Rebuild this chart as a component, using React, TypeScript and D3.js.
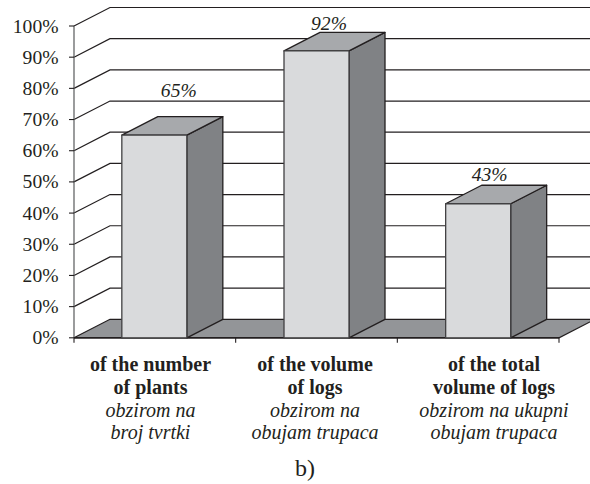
import React from "react";
import * as d3 from "d3";

const categories = ["of the number", "of the volume", "of the total"];
const categoriesLine2 = ["of plants", "of logs", "volume of logs"];
const italicLine1 = ["obzirom na", "obzirom na", "obzirom na ukupni"];
const italicLine2 = ["broj tvrtki", "obujam trupaca", "obujam trupaca"];
const values = [65, 92, 43];
const yTicks = [0, 10, 20, 30, 40, 50, 60, 70, 80, 90, 100];

const FONT = "'Liberation Serif', serif";
const DX = 36;
const DY = 18.5;
const INK = "#231f20";
// hand placement of the annotations, as they sit in the picture
const valueLabelDx = [57, 45, 44];
const valueLabelDy = [38, 21, 23];
const categoryCentres = [150.5, 315, 494];

export default function App() {
  const y = d3.scaleLinear().domain([0, 100]).range([337.8, 26]);
  const x = d3.scaleBand<number>().domain([0, 1, 2]).range([74, 559]);
  const barW = 65;
  const y0 = y(0);
  const right = 595;
  return (
    <svg width={590} height={484} style={{ position: "absolute", left: 0, top: 0, background: "#fff" }} fontFamily={FONT} fill={INK}>
      {yTicks.filter(t => t > 0).map(t => (
        <polyline key={t} points={`${74},${y(t)} ${74 + DX},${y(t) - DY} ${right},${y(t) - DY}`} fill="none" stroke={INK} strokeWidth={1.2} />
      ))}
      <polygon points={`74,${y0} ${74 + DX},${y0 - DY} ${right},${y0 - DY} ${559},${y0}`} fill="#939598" stroke={INK} strokeWidth={1.2} />
      <line x1={74} x2={74} y1={y(100)} y2={y0} stroke="#58595b" strokeWidth={1.2} />
      <line x1={74} x2={559} y1={y0} y2={y0} stroke={INK} strokeWidth={1.4} />
      {yTicks.map(t => (
        <g key={t}>
          <line x1={69} x2={74} y1={y(t)} y2={y(t)} stroke={INK} strokeWidth={1.1} />
          <text x={58.5} y={y(t) + 6.5} textAnchor="end" fontSize={19.6}>{t}%</text>
        </g>
      ))}
      {[0, 1, 2, 3].map(i => {
        const xp = 74 + i * x.bandwidth();
        return <line key={i} x1={xp} x2={xp} y1={y0} y2={y0 + 5} stroke={INK} strokeWidth={1.1} />;
      })}
      {values.map((v, i) => {
        const x0 = (x(i) as number) + (x.bandwidth() - barW) / 2 - 0.5 + (i === 0 ? 0 : 0.5);
        const x1 = x0 + barW;
        const t = y(v);
        return (
          <g key={i} stroke={INK} strokeWidth={1.3} strokeLinejoin="round">
            <polygon points={`${x1},${t} ${x1 + DX},${t - DY} ${x1 + DX},${y0 - DY} ${x1},${y0}`} fill="#808285" />
            <polygon points={`${x0},${t} ${x0 + DX},${t - DY} ${x1 + DX},${t - DY} ${x1},${t}`} fill="#a7a9ac" />
            <rect x={x0} y={t} width={barW} height={y0 - t} fill="#d9dadc" stroke="#414042" />
            <text x={x0 + valueLabelDx[i]} y={t - valueLabelDy[i]} textAnchor="middle" fontSize={19.6} fontStyle="italic" stroke="none" fill={INK}>{v}%</text>
          </g>
        );
      })}
      {categories.map((c, i) => (
        <g key={i} textAnchor="middle" fontSize={20}>
          <text x={categoryCentres[i]} y={371} fontWeight="bold">{c}</text>
          <text x={categoryCentres[i]} y={393.5} fontWeight="bold">{categoriesLine2[i]}</text>
          <text x={categoryCentres[i]} y={416.5} fontStyle="italic">{italicLine1[i]}</text>
          <text x={categoryCentres[i]} y={438.5} fontStyle="italic">{italicLine2[i]}</text>
        </g>
      ))}
      <text x={305} y={475.5} textAnchor="middle" fontSize={24}>b)</text>
    </svg>
  );
}
